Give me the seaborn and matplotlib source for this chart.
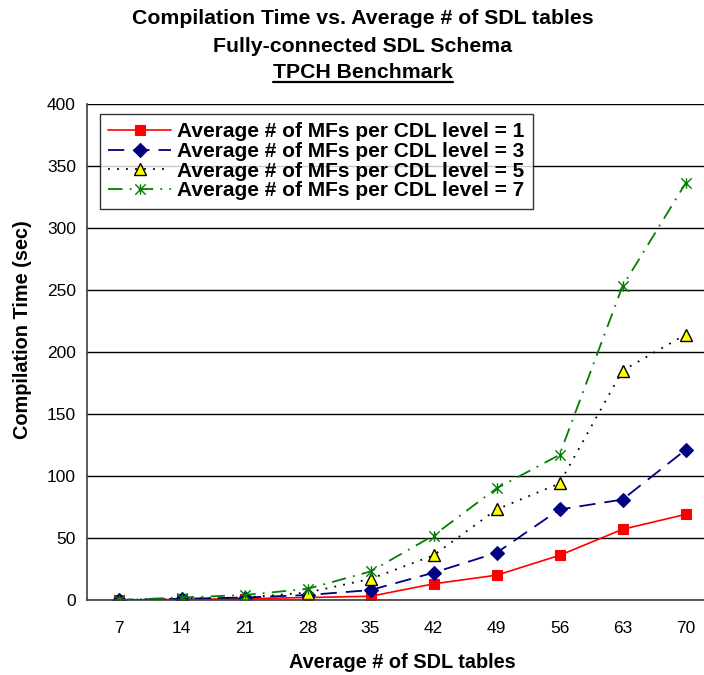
import numpy as np
import pandas as pd
import matplotlib
matplotlib.use("Agg")
import matplotlib.pyplot as plt
from matplotlib.path import Path
from matplotlib.lines import Line2D
import seaborn as sns

# ---- data ----
categories = [7, 14, 21, 28, 35, 42, 49, 56, 63, 70]
mf1 = [0, 0.5, 1, 2, 3, 13, 20, 36, 57, 69]
mf3 = [0, 1, 2, 4, 8, 22, 38, 73, 81, 121]
mf5 = [0, 1, 2, 6, 17, 36, 73, 94, 185, 214]
mf7 = [0, 2, 4, 9, 23, 52, 90, 117, 253, 336]
labels = ["Average # of MFs per CDL level = 1",
          "Average # of MFs per CDL level = 3",
          "Average # of MFs per CDL level = 5",
          "Average # of MFs per CDL level = 7"]
yticks = [0, 50, 100, 150, 200, 250, 300, 350, 400]

sns.set_theme(style="white")
plt.rcParams['font.family'] = ['Liberation Sans', 'DejaVu Sans']
plt.rcParams.update({"text.color": "black", "axes.labelcolor": "black",
                     "xtick.color": "black", "ytick.color": "black"})

W, H = 704, 675
fig = plt.figure(figsize=(W / 100, H / 100), dpi=100)
ax = fig.add_axes([87 / W, 1 - 600 / H, 630 / W, 496 / H])

# Excel-like star marker (x with vertical bar)
star = Path([(-1, -1), (1, 1), (-1, 1), (1, -1), (0, -1), (0, 1)],
            [Path.MOVETO, Path.LINETO, Path.MOVETO, Path.LINETO, Path.MOVETO, Path.LINETO])

idx = np.arange(len(categories))
series = [
    (mf1, dict(color="#FF0000", linestyle="-", marker="s", markersize=7.5,
               markerfacecolor="#FF0000", markeredgecolor="#FF0000", linewidth=1.2)),
    (mf3, dict(color="#000080", linestyle=(0, (9, 5)), marker="D", markersize=7,
               markerfacecolor="#000080", markeredgecolor="#000080", linewidth=1.3)),
    (mf5, dict(color="#000000", linestyle=(0, (1, 4)), marker="^", markersize=8.5,
               markerfacecolor="#FFFF00", markeredgecolor="#000000", markeredgewidth=1.0,
               linewidth=1.3)),
    (mf7, dict(color="#008000", linestyle=(0, (8, 4, 1, 4)), marker=star, markersize=7.5,
               markerfacecolor="none", markeredgecolor="#008000", markeredgewidth=1.0,
               linewidth=1.3)),
]
handles = []
for (vals, kw), lab in zip(series, labels):
    df = pd.DataFrame({"x": idx, "y": vals})
    kw = dict(kw)
    kw.setdefault("markeredgewidth", 0.8)
    sns.lineplot(data=df, x="x", y="y", ax=ax, legend=False, **kw)
    handles.append(Line2D([], [], label=lab, **kw))

ax.set_xlim(-0.5, len(categories) - 0.5)
ax.set_ylim(0, 400)
ax.set_yticks(yticks)
ax.set_yticklabels([str(v) for v in yticks], fontsize=12.5)
ax.set_xticks(idx)
ax.set_xticklabels([str(c) for c in categories], fontsize=12.5)
ax.set_xticks(np.arange(-0.5, len(categories), 1.0), minor=True)
ax.tick_params(axis="x", which="major", length=0, pad=15)
ax.tick_params(axis="x", which="minor", length=5, width=1, color="black", direction="out")
ax.tick_params(axis="y", which="major", length=5, width=1, color="black", direction="out", pad=3)

ax.yaxis.grid(True, color="black", linewidth=1.0)
ax.xaxis.grid(False)
ax.set_axisbelow(True)
for s in ["top", "right"]:
    ax.spines[s].set_visible(False)
for s in ["left", "bottom"]:
    ax.spines[s].set_color("#404040")
    ax.spines[s].set_linewidth(1.2)

ax.set_xlabel("Average # of SDL tables", fontsize=14.3, fontweight="bold")
ax.set_ylabel("Compilation Time (sec)", fontsize=14.3, fontweight="bold")
ax.xaxis.set_label_coords(0.5, -(663 - 600) / 496)
ax.yaxis.set_label_coords(-(87 - 23) / 630, (600 - 330) / 496)
ax.xaxis.label.set_va("center")
ax.yaxis.label.set_va("center")

leg = ax.legend(handles=handles, loc="upper left",
                bbox_to_anchor=((100 - 87) / 630, 1 - (114 - 104) / 496),
                frameon=True, fancybox=False, shadow=False,
                prop={"weight": "bold", "size": 15.0}, handlelength=3.0,
                handletextpad=0.3, borderpad=0.4, labelspacing=0.03,
                borderaxespad=0)
leg.get_frame().set_edgecolor("black")
leg.get_frame().set_linewidth(1.0)

cx = 363 / W
fig.text(cx, 1 - 18 / H, "Compilation Time vs. Average # of SDL tables",
         ha="center", va="center", fontsize=15.3, fontweight="bold")
fig.text(cx, 1 - 46 / H, "Fully-connected SDL Schema",
         ha="center", va="center", fontsize=15.3, fontweight="bold")
t3 = fig.text(cx, 1 - 73 / H, "TPCH Benchmark",
              ha="center", va="center", fontsize=15.3, fontweight="bold")

fig.canvas.draw()
bb = t3.get_window_extent(fig.canvas.get_renderer())
yline = (bb.y0 + 1) / H
fig.add_artist(Line2D([bb.x0 / W, bb.x1 / W], [yline, yline],
                      transform=fig.transFigure, color="black", linewidth=1.6))

fig.savefig("out.png", dpi=100)
